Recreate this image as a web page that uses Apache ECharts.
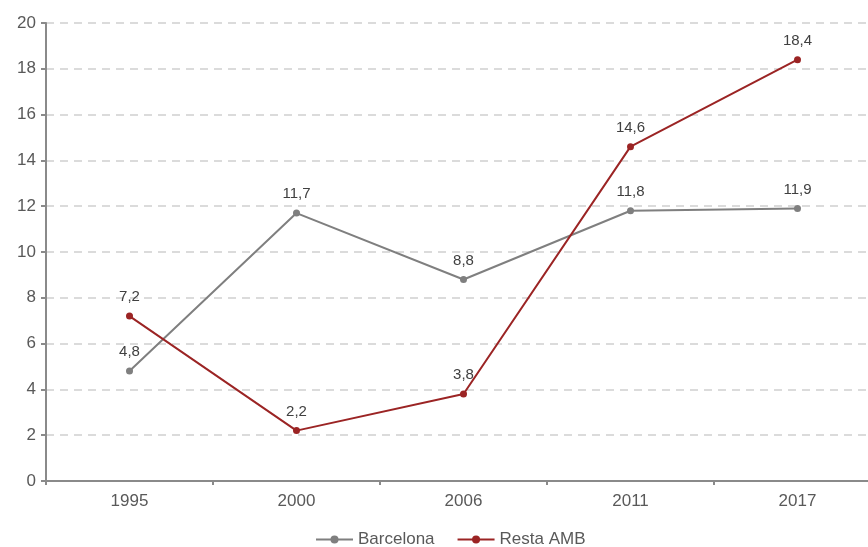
<!DOCTYPE html>
<html><head><meta charset="utf-8">
<script src="https://cdn.jsdelivr.net/npm/echarts@6/dist/echarts.min.js"></script>
<style>html,body{margin:0;padding:0;background:#fff;overflow:hidden}#c{width:881px;height:547px}</style>
</head><body><div id="c"></div>
<script>
const categories = ['1995','2000','2006','2011','2017'];
const barcelona = [4.8, 11.7, 8.8, 11.8, 11.9];
const restaAMB = [7.2, 2.2, 3.8, 14.6, 18.4];
const yTicks = {min: 0, max: 20, interval: 2};

const chart = echarts.init(document.getElementById('c'));
const lbl = {show: true, position: 'top', distance: 8, color: '#404040', fontSize: 15, fontFamily: 'Liberation Sans, Arial',
  formatter: p => String(p.value).replace('.', ',')};
chart.setOption({
  animation: false,
  grid: {left: 46, right: 0, top: 23, bottom: 66},
  legend: {bottom: -6, left: 310, itemWidth: 37, itemHeight: 10, itemGap: 22,
    textStyle: {fontSize: 17, color: '#595959', fontFamily: 'Liberation Sans, Arial'},
    data: ['Barcelona', 'Resta AMB']},
  xAxis: {type: 'category', data: categories, boundaryGap: true,
    axisLine: {lineStyle: {color: '#8a8a8a', width: 2}},
    axisTick: {show: true, length: 4, lineStyle: {color: '#8a8a8a', width: 2}},
    axisLabel: {fontSize: 17, color: '#595959', margin: 12, fontFamily: 'Liberation Sans, Arial'}},
  yAxis: {type: 'value', min: yTicks.min, max: yTicks.max, interval: yTicks.interval,
    axisLine: {show: true, lineStyle: {color: '#8a8a8a', width: 2}},
    axisTick: {show: true, length: 5, lineStyle: {color: '#8a8a8a', width: 2}},
    axisLabel: {fontSize: 17, color: '#595959', margin: 10, fontFamily: 'Liberation Sans, Arial'},
    splitLine: {show: true, lineStyle: {color: '#d0d0d0', width: 1.5, type: [8, 6]}}},
  series: [
    {name: 'Barcelona', type: 'line', data: barcelona, symbol: 'circle', symbolSize: 7,
      itemStyle: {color: '#7f7f7f'}, lineStyle: {color: '#7f7f7f', width: 2}, label: lbl},
    {name: 'Resta AMB', type: 'line', data: restaAMB, symbol: 'circle', symbolSize: 7,
      itemStyle: {color: '#9b2424'}, lineStyle: {color: '#9b2424', width: 2}, label: lbl}
  ]
});
</script></body></html>
